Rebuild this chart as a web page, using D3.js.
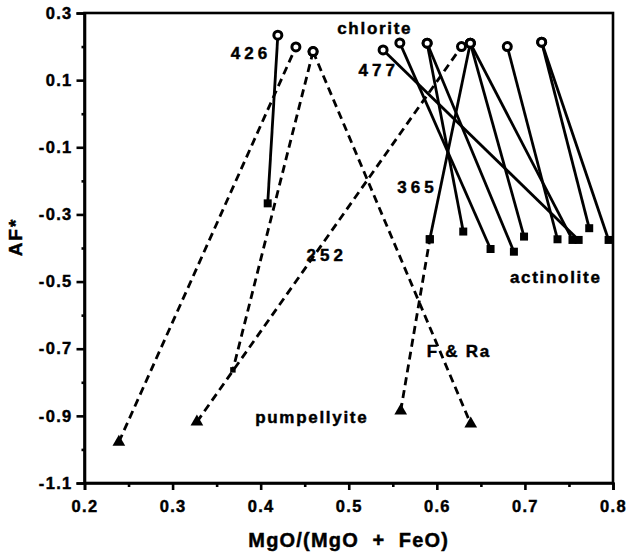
<!DOCTYPE html>
<html>
<head>
<meta charset="utf-8">
<script src="https://cdn.jsdelivr.net/npm/d3@7"></script>
<style>
  body { margin: 0; background: #fff; }
  svg { display: block; font-family: "Liberation Sans", Arial, sans-serif; font-weight: bold; }
  svg text { stroke: #000; stroke-width: 0.45px; }
</style>
</head>
<body>
<svg id="chart" width="635" height="554"></svg>
<script>
// solid tie-lines, chlorite (circle) -> actinolite (square)
var chlX = [0.4195, 0.539, 0.558, 0.589, 0.589, 0.638, 0.638, 0.68, 0.719, 0.719, 0.638];
var chlY = [0.234, 0.19, 0.211, 0.21, 0.21, 0.21, 0.21, 0.2, 0.213, 0.213, 0.21];
var actX = [0.408, 0.761, 0.661, 0.63, 0.6875, 0.699, 0.754, 0.737, 0.773, 0.795, 0.592];
var actY = [-0.267, -0.376, -0.403, -0.351, -0.411, -0.366, -0.376, -0.374, -0.341, -0.376, -0.374];

// dashed tie-lines, start point -> end point
var dashX1 = [0.239, 0.4595, 0.3276, 0.4595, 0.559];
var dashY1 = [-0.978, 0.185, -0.918, 0.185, -0.885];
var dashX2 = [0.44, 0.3685, 0.628, 0.6385, 0.592];
var dashY2 = [0.199, -0.763, 0.2, -0.924, -0.374];
var dashSym1 = ["tri", "circle", "tri", "circle", "tri"];
var dashSym2 = ["circle", "small", "circle", "tri", "square"];

// annotations
var labelText = ["chlorite", "426", "477", "365", "252", "actinolite", "F & Ra", "pumpellyite"];
var labelX = [0.5295, 0.389, 0.534, 0.578, 0.475, 0.735, 0.625, 0.458];
var labelY = [0.255, 0.181, 0.13, -0.218, -0.421, -0.486, -0.707, -0.903];

// axis ticks
var xTicks = [0.2, 0.3, 0.4, 0.5, 0.6, 0.7, 0.8];
var xMinor = [0.25, 0.35, 0.45, 0.55, 0.65, 0.75];
var yTicks = [0.3, 0.1, -0.1, -0.3, -0.5, -0.7, -0.9, -1.1];
var yMinor = [0.2, 0, -0.2, -0.4, -0.6, -0.8, -1.0];

var svg = d3.select("#chart"),
    margin = {top: 13, right: 22, bottom: 71, left: 84.5},
    width = +svg.attr("width") - margin.left - margin.right,
    height = +svg.attr("height") - margin.top - margin.bottom,
    g = svg.append("g").attr("transform", "translate(" + margin.left + "," + margin.top + ")");

var x = d3.scaleLinear().domain([0.2, 0.8]).range([0, width]);
var y = d3.scaleLinear().domain([-1.1, 0.3]).range([height, 0]);

var fmt = function(d) { return d.toFixed(1); };

// frame
g.append("rect")
    .attr("width", width)
    .attr("height", height)
    .attr("fill", "none")
    .attr("stroke", "#000")
    .attr("stroke-width", 2.6);

// bottom axis
g.append("g")
    .attr("transform", "translate(0," + height + ")")
    .call(d3.axisBottom(x).tickValues(xTicks).tickSize(7).tickPadding(10).tickFormat(fmt));
g.append("g")
    .attr("transform", "translate(0," + height + ")")
    .call(d3.axisBottom(x).tickValues(xMinor).tickSize(4).tickFormat(""))
    .select(".domain").remove();

// left axis
g.append("g")
    .call(d3.axisLeft(y).tickValues(yTicks).tickSize(8).tickPadding(4).tickFormat(fmt));
g.append("g")
    .call(d3.axisLeft(y).tickValues(yMinor).tickSize(3).tickFormat(""))
    .select(".domain").remove();

svg.selectAll(".tick line").attr("stroke-width", 2.6);
svg.selectAll(".domain").attr("stroke-width", 2.6);
svg.selectAll(".tick text")
    .attr("font-size", 16.5)
    .attr("font-family", "'Liberation Sans', Arial, sans-serif")
    .attr("font-weight", "bold")
    .attr("letter-spacing", 1.3)
    .attr("fill", "#000");

// axis titles
svg.append("text")
    .attr("x", margin.left + width / 2)
    .attr("y", 547)
    .attr("text-anchor", "middle")
    .attr("font-size", 20)
    .attr("letter-spacing", 1.2)
    .style("white-space", "pre")
    .text("MgO/(MgO  +  FeO)");

svg.append("text")
    .attr("transform", "translate(22,237) rotate(-90)")
    .attr("text-anchor", "middle")
    .attr("font-size", 19)
    .attr("letter-spacing", 2)
    .text("AF*");

// solid lines
var solid = d3.range(chlX.length).map(function(i) {
  return {x1: chlX[i], y1: chlY[i], x2: actX[i], y2: actY[i]};
});
g.append("g").selectAll("line")
    .data(solid)
    .enter().append("line")
      .attr("x1", function(d) { return x(d.x1); })
      .attr("y1", function(d) { return y(d.y1); })
      .attr("x2", function(d) { return x(d.x2); })
      .attr("y2", function(d) { return y(d.y2); })
      .attr("stroke", "#000")
      .attr("stroke-width", 2.8);

// dashed lines
var dashed = d3.range(dashX1.length).map(function(i) {
  return {x1: dashX1[i], y1: dashY1[i], x2: dashX2[i], y2: dashY2[i]};
});
g.append("g").selectAll("line")
    .data(dashed)
    .enter().append("line")
      .attr("x1", function(d) { return x(d.x1); })
      .attr("y1", function(d) { return y(d.y1); })
      .attr("x2", function(d) { return x(d.x2); })
      .attr("y2", function(d) { return y(d.y2); })
      .attr("stroke", "#000")
      .attr("stroke-width", 2.8)
      .attr("stroke-dasharray", "8,5");

// markers
var pts = [];
chlX.forEach(function(v, i) { pts.push({x: v, y: chlY[i], s: "circle"}); });
actX.forEach(function(v, i) { pts.push({x: v, y: actY[i], s: "square"}); });
dashX1.forEach(function(v, i) { pts.push({x: v, y: dashY1[i], s: dashSym1[i]}); });
dashX2.forEach(function(v, i) { pts.push({x: v, y: dashY2[i], s: dashSym2[i]}); });

var symType = {tri: d3.symbolTriangle, square: d3.symbolSquare, small: d3.symbolSquare};
var symSize = {tri: 70, square: 64, small: 30};

var mk = g.append("g");
mk.selectAll("circle")
    .data(pts.filter(function(d) { return d.s == "circle"; }))
    .enter().append("circle")
      .attr("cx", function(d) { return x(d.x); })
      .attr("cy", function(d) { return y(d.y); })
      .attr("r", 4)
      .attr("fill", "#fff")
      .attr("stroke", "#000")
      .attr("stroke-width", 3);
mk.selectAll("path")
    .data(pts.filter(function(d) { return d.s != "circle"; }))
    .enter().append("path")
      .attr("transform", function(d) { return "translate(" + x(d.x) + "," + y(d.y) + ")"; })
      .attr("d", function(d) { return d3.symbol().type(symType[d.s]).size(symSize[d.s])(); })
      .attr("fill", "#000");

// annotations
g.append("g").selectAll("text")
    .data(labelText)
    .enter().append("text")
      .attr("x", function(d, i) { return x(labelX[i]); })
      .attr("y", function(d, i) { return y(labelY[i]); })
      .attr("dy", "0.35em")
      .attr("text-anchor", "middle")
      .attr("font-size", 17)
      .attr("letter-spacing", function(d) { return /^\d+$/.test(d) ? 4 : 1.7; })
      .style("white-space", "pre")
      .text(function(d) { return d; });
</script>
</body>
</html>
